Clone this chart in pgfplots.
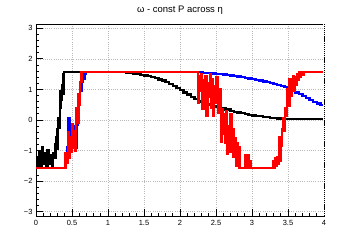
\documentclass[border=0pt]{standalone}
\usepackage{pgfplots}
\pgfplotsset{compat=1.18}
\usepackage{fontspec}
\setmainfont{Liberation Sans}

\definecolor{gridgray}{RGB}{185,185,185}

\begin{document}
\begin{tikzpicture}
\path[use as bounding box] (-36bp,-24bp) rectangle (324bp,216bp);
\begin{axis}[
  at={(0,0)}, anchor=south west,
  scale only axis, width=288bp, height=192bp,
  xmin=0, xmax=4, ymin=-3.14159, ymax=3.14159,
  xtick={0,0.5,1,1.5,2,2.5,3,3.5,4},
  xticklabels={0,0.5,1,1.5,2,2.5,3,3.5,4},
  ytick={-3,-2,-1,0,1,2,3},
  yticklabels={−3,−2,−1,0,1,2,3},
  minor x tick num=4, minor y tick num=4,
  tick align=inside, tick pos=left,
  major tick length=7bp, minor tick length=3.5bp,
  tick style={black, line width=0.8bp},
  grid=major,
  major grid style={gridgray, line width=0.7bp, dash pattern=on 0.7bp off 1.5bp},
  axis line style={line width=0.9bp},
  tick label style={font=\fontsize{7.5}{9}\selectfont},
  xticklabel style={yshift=-0.5bp},
  title={ω - const P across η},
  every axis title shift=0pt,
  title style={font=\fontsize{9.5}{11}\selectfont, at={(rel axis cs:0.5,1)}, anchor=base, yshift=11.7bp},
  every axis plot/.append style={const plot, line width=2.3bp, line join=miter, mark=none},
  clip mode=individual,
]
% black: phase of the first solution
\addplot[black] coordinates {
(0.00,-1.20) (0.02,-1.50) (0.04,-1.05) (0.06,-1.50) (0.08,-0.90) (0.10,-1.45)
(0.12,-1.10) (0.14,-1.50) (0.16,-1.00) (0.18,-1.45) (0.20,-1.15) (0.22,-1.50)
(0.24,-1.10) (0.26,-0.80) (0.27,-1.25) (0.28,-0.55) (0.29,-0.95) (0.30,-0.30)
(0.31,0.05) (0.32,-0.25) (0.33,0.40) (0.34,0.95) (0.35,0.65) (0.36,1.15)
(0.37,0.85) (0.38,1.50) (0.39,1.5708) (1.10,1.5708)
(1.15,1.565) (1.20,1.56) (1.25,1.545) (1.30,1.53) (1.35,1.515) (1.40,1.50)
(1.45,1.48) (1.50,1.46) (1.55,1.43) (1.60,1.40) (1.65,1.37) (1.70,1.33)
(1.75,1.29) (1.80,1.24) (1.85,1.18) (1.90,1.12) (1.95,1.05) (2.00,0.98)
(2.05,0.90) (2.10,0.83) (2.15,0.76) (2.20,0.69) (2.25,0.63) (2.30,0.58)
(2.35,0.53) (2.40,0.49) (2.45,0.45) (2.50,0.42) (2.53,0.44) (2.56,0.38)
(2.60,0.40) (2.63,0.33) (2.66,0.35) (2.70,0.30) (2.75,0.27) (2.80,0.25)
(2.85,0.22) (2.90,0.20) (2.95,0.17) (3.00,0.15) (3.05,0.13) (3.10,0.12)
(3.15,0.10) (3.20,0.09) (3.25,0.07) (3.30,0.06) (3.35,0.05) (3.40,0.04)
(4.00,0.04)
};
% blue: phase of the second solution
\addplot[blue] coordinates {
(0.42,-0.90) (0.435,-1.10) (0.45,0.05) (0.465,-0.55) (0.48,-0.30) (0.50,-0.60)
(0.52,-0.35) (0.54,-0.20) (0.555,-0.90) (0.57,-0.15) (0.585,0.30) (0.60,0.60)
(0.615,0.95) (0.63,1.25) (0.645,1.50) (0.66,1.35) (0.675,1.50) (0.69,1.5708)
(2.30,1.5708) (2.32,1.54) (2.40,1.53) (2.45,1.52) (2.50,1.51) (2.55,1.50)
(2.60,1.49) (2.65,1.47) (2.70,1.46) (2.75,1.44) (2.80,1.42) (2.85,1.40)
(2.90,1.38) (2.95,1.36) (3.00,1.34) (3.05,1.31) (3.10,1.29) (3.15,1.26)
(3.20,1.24) (3.25,1.21) (3.30,1.18) (3.35,1.15) (3.40,1.11) (3.45,1.07)
(3.50,1.02) (3.55,0.96) (3.60,0.90) (3.65,0.84) (3.70,0.78) (3.75,0.71)
(3.80,0.65) (3.85,0.59) (3.90,0.54) (3.95,0.48) (4.00,0.43)
};
% red: phase of the third solution
\addplot[red] coordinates {
(0.00,-1.5708) (0.41,-1.10) (0.425,-1.40) (0.44,-0.40) (0.455,-1.25)
(0.47,-0.55) (0.485,-1.05) (0.50,-0.15) (0.515,-0.90) (0.53,-0.35)
(0.545,-1.00) (0.56,0.40) (0.575,-0.10) (0.59,0.85) (0.605,0.50)
(0.615,1.25) (0.63,1.5708)
(2.25,0.57) (2.265,1.45) (2.28,0.95) (2.295,1.50) (2.31,0.35) (2.325,1.30)
(2.34,0.65) (2.355,1.45) (2.37,0.15) (2.385,1.20) (2.40,0.75) (2.415,1.50)
(2.43,0.40) (2.445,1.35) (2.46,0.15) (2.475,1.10) (2.49,0.55) (2.505,1.40)
(2.52,0.80) (2.535,0.25) (2.55,1.00) (2.565,-0.70) (2.58,0.35) (2.595,-0.45)
(2.61,0.20) (2.625,-0.75) (2.64,0.30) (2.655,-1.10) (2.67,-0.20) (2.685,-1.05)
(2.70,0.20) (2.715,-0.95) (2.73,-0.30) (2.745,-1.20) (2.76,-0.60) (2.775,-1.50)
(2.79,-0.75) (2.805,-1.40) (2.815,-0.90) (2.825,-1.5708)
(2.90,-1.15) (2.91,-1.5708) (2.945,-1.15) (2.955,-1.5708) (2.975,-1.35)
(2.985,-1.5708)
(3.30,-1.35) (3.31,-1.5708) (3.32,-1.25) (3.335,-1.50) (3.35,-1.20) (3.365,-1.45)
(3.375,-0.55) (3.385,-1.35) (3.40,-0.85) (3.415,-0.30) (3.43,0.05) (3.445,-0.35)
(3.46,0.40) (3.475,0.15) (3.49,1.00) (3.505,0.45) (3.52,1.35) (3.535,0.80)
(3.55,1.20) (3.565,1.45) (3.58,0.95) (3.595,1.40) (3.61,1.15) (3.625,1.50)
(3.64,1.30) (3.655,1.55) (3.67,1.40) (3.685,1.5708) (3.70,1.48) (3.715,1.5708)
(4.00,1.5708)
};
% right frame edge drawn dashed
\draw[white, line width=1.6bp] (rel axis cs:1,0) -- (rel axis cs:1,1);
\draw[black, line width=0.9bp, dash pattern=on 1.3bp off 0.8bp] (rel axis cs:1,0) -- (rel axis cs:1,1);
\end{axis}
\end{tikzpicture}
\end{document}
